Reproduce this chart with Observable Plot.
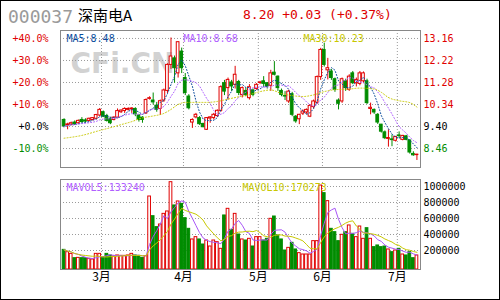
<!DOCTYPE html>
<html><head><meta charset="utf-8">
<script src="https://cdn.jsdelivr.net/npm/d3@7"></script>
<script src="https://cdn.jsdelivr.net/npm/@observablehq/plot@0.6"></script>
<style>
body{margin:0;background:#fff}
#c{position:relative;width:500px;height:300px;overflow:hidden;background:#fff}
#c svg{position:absolute;left:0}
#b{position:absolute;left:0;top:0;width:500px;height:300px;box-sizing:border-box;border:1px solid #000;pointer-events:none}
</style></head><body>
<div id="c">
<svg id="title" width="500" height="30" style="top:0">
<text x="8" y="23" font-family="DejaVu Sans Mono" font-size="18" fill="#9a9a9a">000037</text>
<text x="78" y="21" font-family="Noto Sans CJK SC" font-size="15" fill="#000">深南电A</text>
<text x="243" y="19" font-family="DejaVu Sans Mono" font-size="13" fill="#dd0000">8.20 +0.03 (+0.37%)</text>
</svg>
<div id="b"></div>
</div>
<script>
// ---- data ----
const open  = [9.68,9.45,9.48,9.57,9.54,9.68,9.66,9.64,9.68,9.73,9.87,10.01,9.85,9.73,9.68,9.78,10.01,10.06,10.11,10.13,10.15,9.87,9.78,9.96,10.58,10.51,10.29,10.15,10.51,10.92,12.03,12.31,11.67,12.60,11.47,10.68,9.57,9.79,9.76,9.51,9.26,9.74,9.76,9.85,10.07,11.25,11.04,11.28,11.18,11.30,10.75,10.92,10.61,10.94,11.00,11.26,11.33,11.25,11.14,11.70,11.53,10.92,10.70,10.47,10.78,9.82,9.71,9.95,10.00,9.82,10.23,10.42,11.51,12.67,11.80,11.75,11.42,10.51,10.47,11.33,10.97,11.67,11.25,11.22,11.33,11.33,10.15,10.11,9.90,9.48,9.15,8.87,8.85,8.79,9.02,8.83,8.98,8.80,8.23,8.19];
const high  = [9.73,9.54,9.59,9.64,9.68,9.78,9.73,9.76,9.78,9.92,10.17,10.06,9.92,9.78,9.82,10.15,10.11,10.20,10.20,10.20,10.20,9.92,9.82,10.58,10.67,10.83,10.43,10.53,11.00,12.08,13.18,12.41,13.02,12.75,11.66,10.76,9.73,9.96,9.82,9.54,9.78,9.82,9.96,10.11,11.14,11.37,11.47,11.37,11.97,11.37,11.09,11.05,11.19,11.00,11.23,11.33,11.53,11.28,11.80,12.17,11.56,11.00,10.89,10.95,10.86,9.87,9.92,10.11,10.15,10.34,10.53,11.56,12.74,12.96,12.31,11.84,11.47,10.58,11.47,11.42,11.61,11.75,11.47,11.75,11.73,11.42,10.40,10.15,9.95,9.49,9.21,9.26,9.04,8.98,9.17,9.02,9.02,8.84,8.32,8.21];
const low   = [9.35,9.26,9.43,9.45,9.49,9.54,9.54,9.59,9.64,9.68,9.82,9.78,9.59,9.48,9.64,9.73,9.96,9.96,10.06,9.96,9.82,9.59,9.54,9.92,10.53,10.32,10.01,9.87,10.43,10.81,11.84,11.25,11.47,11.66,10.72,10.11,9.32,9.73,9.45,9.35,9.23,9.54,9.68,9.78,10.01,10.72,10.53,10.90,11.00,10.72,10.62,10.67,10.53,10.67,10.95,11.19,11.09,11.00,10.90,11.56,10.90,10.67,10.51,10.39,9.82,9.54,9.48,9.87,9.92,9.78,10.15,10.34,11.37,11.94,11.39,11.37,10.86,10.11,10.39,10.90,10.90,11.19,11.09,11.14,11.23,10.34,9.90,9.92,9.49,9.12,8.84,8.52,8.54,8.74,8.88,8.79,8.79,8.22,8.13,7.95];
const close = [9.40,9.49,9.54,9.49,9.64,9.59,9.61,9.73,9.76,9.89,10.11,9.82,9.64,9.54,9.78,10.06,10.08,10.15,10.15,10.17,9.92,9.68,9.68,10.53,10.61,10.43,10.11,10.48,10.94,12.03,12.39,11.89,13.00,11.89,10.83,10.18,9.68,9.90,9.50,9.37,9.76,9.79,9.90,10.07,11.08,10.89,11.39,11.11,11.61,10.83,11.04,10.75,11.08,10.75,11.18,11.28,11.22,11.11,11.67,11.61,11.04,10.75,10.68,10.89,9.90,9.62,9.90,10.04,10.11,10.28,10.47,11.51,12.67,12.03,11.89,11.47,10.97,10.37,11.42,11.04,11.53,11.25,11.39,11.67,11.67,10.40,10.20,10.00,9.57,9.18,8.90,8.91,8.82,8.95,8.99,9.00,8.83,8.29,8.17,8.20];
const volume = [208000,179000,158000,104000,108000,104000,104000,96000,88000,158000,158000,117000,158000,138000,125000,138000,133000,133000,138000,158000,138000,133000,108000,130000,875000,629000,492000,525000,658000,688000,1054000,763000,813000,783000,604000,471000,338000,367000,338000,275000,325000,250000,325000,304000,221000,638000,721000,458000,658000,400000,338000,325000,346000,250000,367000,367000,325000,346000,596000,625000,388000,338000,200000,233000,296000,213000,167000,150000,150000,150000,317000,317000,1012000,917000,817000,471000,429000,317000,396000,429000,513000,408000,367000,500000,346000,479000,346000,242000,263000,242000,250000,213000,179000,200000,221000,150000,138000,179000,104000,138000];
// MA30 at these trading-day indices
const ma30Day = [0,5,10,13,16,19,22,25,28,30,32,34,37,40,43,46,49,52,55,58,61,64,67,70,73,76,80,83,87,89,91,94,97,99];
const ma30Val = [8.90,9.02,9.23,9.35,9.48,9.61,9.77,9.85,9.96,10.13,10.34,10.43,10.43,10.43,10.47,10.57,10.67,10.76,10.89,10.96,10.81,10.72,10.68,10.75,10.89,10.97,11.00,11.04,11.00,10.86,10.64,10.50,10.42,10.23];
const basePrice = 9.40;
const priceTicks = [8.46, 9.40, 10.34, 11.28, 12.22, 13.16];
const volTicks = [200000, 400000, 600000, 800000, 1000000];
const monthStart = [11, 34, 55, 73, 94];
const monthLabel = ["3月", "4月", "5月", "6月", "7月"];
const maLegend = ["MA5:8.48", "MA10:8.68", "MA30:10.23"];
const volLegend = ["MAVOL5:133240", "MAVOL10:170273"];

// ---- build ----
const RED = "#e00000", GREEN = "#008c00";
const C_MA5 = "#0a4c9c", C_MA10 = "#b060ff", C_MA30 = "#c8c800";
const data = close.map((c, i) => ({i, open: open[i], high: high[i], low: low[i], close: c, vol: volume[i]}));
const up = d => d.close >= d.open;
const col = d => up(d) ? RED : GREEN;
const doji = data.filter(d => Math.abs(d.close - d.open) < 0.015);
const ma30 = ma30Day.map((d, k) => ({i: d, v: ma30Val[k]}));
const months = monthStart.map((m, k) => ({i: m, label: monthLabel[k]}));
const GRID = {stroke: "#9a9a9a", strokeDasharray: "1,2"};
const DOT = {strokeWidth: 1, strokeDasharray: "1,2"};
const HW = 0.38;

const pricePlot = Plot.plot({
  width: 500, height: 170,
  marginTop: 30, marginBottom: 3, marginLeft: 60, marginRight: 80,
  x: {domain: [-1, 100], axis: null},
  y: {domain: [7.65, 13.5], axis: null},
  color: {type: "identity"},
  style: {fontFamily: "DejaVu Sans Mono", fontSize: "10px", background: "transparent", overflow: "visible"},
  marks: [
    Plot.text(["CFi.CN"], {frameAnchor: "top-left", dx: 10, dy: 34, text: d => d, fontSize: 28, fontWeight: "bold", fontFamily: "DejaVu Sans", fill: "#d2d2d2", textAnchor: "start", lineAnchor: "middle"}),
    Plot.ruleY(priceTicks, GRID),
    Plot.ruleX(monthStart, {x: d => d - 0.5, ...GRID}),
    Plot.ruleX(data, {x: "i", y1: "low", y2: "high", stroke: col}),
    Plot.rect(data, {x1: d => d.i - HW, x2: d => d.i + HW, y1: d => Math.min(d.open, d.close), y2: d => Math.max(d.open, d.close), fill: d => up(d) ? "white" : GREEN, stroke: col}),
    Plot.ruleY(doji, {y: "close", x1: d => d.i - 0.5, x2: d => d.i + 0.5, stroke: col}),
    Plot.lineY(data, Plot.windowY({k: 5, anchor: "end"}, {x: "i", y: "close", stroke: C_MA5, ...DOT})),
    Plot.lineY(data, Plot.windowY({k: 10, anchor: "end"}, {x: "i", y: "close", stroke: C_MA10, ...DOT})),
    Plot.line(ma30, {x: "i", y: "v", stroke: C_MA30, ...DOT, curve: "monotone-x"}),
    Plot.frame({stroke: "#888"}),
    Plot.text([maLegend[0]], {frameAnchor: "top-left", dx: 6, dy: 4, text: d => d, fill: C_MA5, textAnchor: "start", lineAnchor: "top"}),
    Plot.text([maLegend[1]], {frameAnchor: "top-left", dx: 123, dy: 4, text: d => d, fill: C_MA10, textAnchor: "start", lineAnchor: "top"}),
    Plot.text([maLegend[2]], {frameAnchor: "top-left", dx: 243, dy: 4, text: d => d, fill: C_MA30, textAnchor: "start", lineAnchor: "top"}),
    Plot.text(priceTicks, {y: d => d, frameAnchor: "left", dx: -12, textAnchor: "end", text: d => {const p = (d / basePrice - 1) * 100; return (p < -0.05 ? "" : "+") + p.toFixed(1) + "%";}, fill: d => d > basePrice + 1e-6 ? RED : d < basePrice - 1e-6 ? GREEN : "#000"}),
    Plot.text(priceTicks, {y: d => d, frameAnchor: "right", dx: 3, textAnchor: "start", text: d => d.toFixed(2), fill: d => d > basePrice + 1e-6 ? RED : d < basePrice - 1e-6 ? GREEN : "#000"})
  ]
});
pricePlot.style.top = "0px";

const VMIN = -37500;
const volPlot = Plot.plot({
  width: 500, height: 130,
  marginTop: 9, marginBottom: 31, marginLeft: 60, marginRight: 80,
  x: {domain: [-1, 100], axis: null},
  y: {domain: [VMIN, 1087500], axis: null},
  color: {type: "identity"},
  style: {fontFamily: "DejaVu Sans Mono", fontSize: "10px", background: "transparent", overflow: "visible"},
  marks: [
    Plot.ruleY(volTicks, GRID),
    Plot.ruleX(monthStart, {x: d => d - 0.5, ...GRID}),
    Plot.rect(data, {x1: d => d.i - HW, x2: d => d.i + HW, y1: VMIN, y2: "vol", fill: d => up(d) ? "white" : GREEN, stroke: col}),
    Plot.lineY(data, Plot.windowY({k: 5, anchor: "end"}, {x: "i", y: "vol", stroke: "#a855f7", strokeWidth: 1})),
    Plot.lineY(data, Plot.windowY({k: 10, anchor: "end"}, {x: "i", y: "vol", stroke: "#c8c800", strokeWidth: 1})),
    Plot.frame({stroke: "#888"}),
    Plot.text([volLegend[0]], {frameAnchor: "top-left", dx: 6, dy: 4, text: d => d, fill: "#b060ff", textAnchor: "start", lineAnchor: "top"}),
    Plot.text([volLegend[1]], {frameAnchor: "top-left", dx: 182, dy: 4, text: d => d, fill: "#c8c800", textAnchor: "start", lineAnchor: "top"}),
    Plot.text(volTicks, {y: d => d, frameAnchor: "right", dx: 3, textAnchor: "start", text: d => String(d), fill: "#000"}),
    Plot.text(months, {x: d => d.i - 0.5, frameAnchor: "bottom", dy: 3, lineAnchor: "top", text: "label", fontSize: 12, fontFamily: "Noto Sans CJK SC", fill: "#000"})
  ]
});
volPlot.style.top = "170px";

const c = document.getElementById("c");
c.insertBefore(pricePlot, document.getElementById("b"));
c.insertBefore(volPlot, document.getElementById("b"));
</script>
</body></html>
